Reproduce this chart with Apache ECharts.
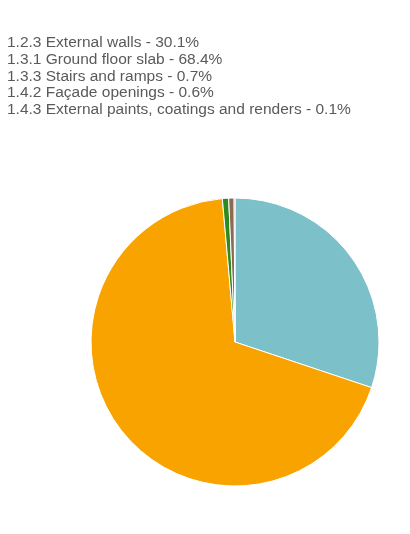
<!DOCTYPE html>
<html>
<head>
<meta charset="utf-8">
<script src="https://cdn.jsdelivr.net/npm/echarts@6/dist/echarts.min.js"></script>
<style>
  html, body { margin: 0; padding: 0; background: #fff; }
  #chart { width: 410px; height: 534px; }
</style>
</head>
<body>
<div id="chart"></div>
<script>
// Share of each building element in the total
const categories = [
  '1.2.3 External walls',
  '1.3.1 Ground floor slab',
  '1.3.3 Stairs and ramps',
  '1.4.2 Façade openings',
  '1.4.3 External paints, coatings and renders'
];
const shares = [30.1, 68.4, 0.7, 0.6, 0.1];
const colors = ['#7cc0c9', '#f9a300', '#2e8a1e', '#8a6a52', '#c0504d'];

const pieData = categories.map((name, i) => ({ name, value: shares[i] }));
const shareByName = Object.fromEntries(pieData.map(d => [d.name, d.value]));

const chart = echarts.init(document.getElementById('chart'), null, { renderer: 'canvas' });
chart.setOption({
  animation: false,
  color: colors,
  legend: {
    orient: 'vertical',
    left: 2,
    top: 35,
    padding: 0,
    icon: 'none',
    itemWidth: 0,
    itemHeight: 16,
    itemGap: 0.7,
    selectedMode: false,
    textStyle: {
      fontFamily: 'Liberation Sans, Arial, sans-serif',
      fontSize: 15.5,
      lineHeight: 16,
      color: '#5a5a5a'
    },
    formatter: name => name + ' - ' + shareByName[name].toFixed(1) + '%',
    data: categories
  },
  series: [{
    type: 'pie',
    center: [235, 342],
    radius: 144,
    startAngle: 90,
    clockwise: true,
    label: { show: false },
    labelLine: { show: false },
    emphasis: { disabled: true },
    itemStyle: { borderColor: '#fff', borderWidth: 1 },
    data: pieData
  }]
});
</script>
</body>
</html>
